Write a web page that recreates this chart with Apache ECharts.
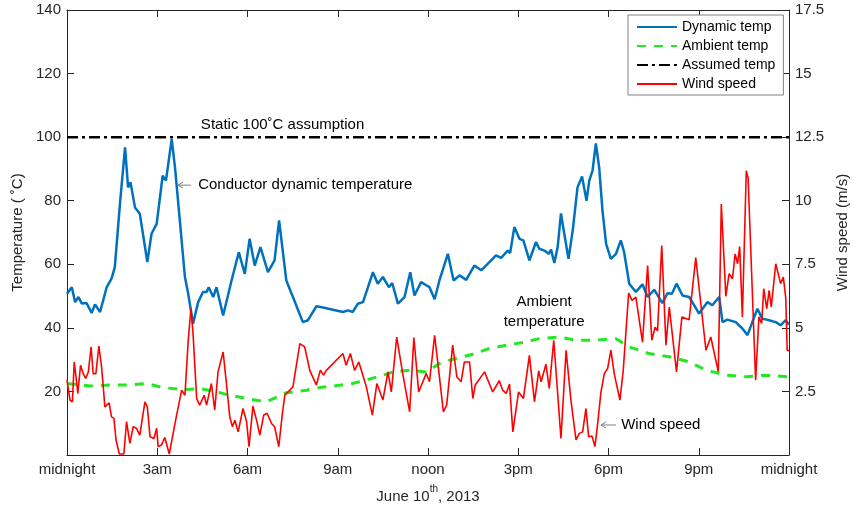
<!DOCTYPE html>
<html><head><meta charset="utf-8">
<script src="https://cdn.jsdelivr.net/npm/echarts@6.0.0/dist/echarts.min.js"></script>
<style>html,body{margin:0;padding:0;background:#fff}#c{width:854px;height:512px}</style>
</head><body><div id="c"></div>
<script>
const xTickLabels = ['midnight','3am','6am','9am','noon','3pm','6pm','9pm','midnight'];

const dynHour = [0,0.16,0.27,0.38,0.49,0.65,0.82,0.93,1.10,1.32,
1.48,1.59,1.76,1.93,2.03,2.11,2.26,2.42,2.67,2.81,
2.98,3.09,3.18,3.29,3.48,3.59,3.75,3.92,4.03,4.19,
4.36,4.52,4.64,4.71,4.86,4.97,5.19,5.47,5.71,5.91,
6.07,6.24,6.43,6.68,6.90,7.05,7.29,7.51,7.84,8.01,
8.29,8.51,9.17,9.34,9.50,9.67,9.84,10.17,10.33,10.50,
10.70,10.81,11.00,11.22,11.41,11.55,11.77,11.94,12.05,12.22,
12.38,12.66,12.85,13.05,13.27,13.54,13.77,13.99,14.26,14.43,
14.65,14.73,14.87,15.04,15.17,15.37,15.59,15.70,15.87,16.01,
16.09,16.20,16.31,16.42,16.53,16.67,16.81,16.97,17.12,17.27,
17.36,17.47,17.58,17.69,17.80,17.92,18.08,18.25,18.41,18.52,
18.69,18.91,19.13,19.30,19.52,19.79,19.96,20.11,20.26,20.46,
20.68,20.85,21.01,21.29,21.45,21.68,21.79,21.95,22.23,22.45,
22.62,22.78,22.95,23.11,23.34,23.56,23.72,23.89,24];
const dynTemp = [50.7,52.8,48.1,49.7,47.7,47.8,44.7,47.4,45,52.8,
55.5,59.1,79,96.8,84.2,85.8,77.9,75.9,60.7,69.6,
72.7,81,87.9,86.3,99.4,90.5,73.8,56,50.7,41.3,
48.1,51.3,51.3,52.8,49.7,52.8,43.9,54.9,63.8,57,
68,59.6,65.4,57.5,61.2,73.8,54.9,49.7,41.8,42.4,
46.8,46.4,45,45.5,45,47.6,48.1,57.5,53.9,56,
52.8,54.1,47.6,49.7,57.5,50.2,54.4,53.4,52.8,49,
54.9,63.3,54.9,56.5,55.1,59.6,58.1,60.2,62.8,62,
64.3,63.5,71.7,68,67.5,61.2,67,64.9,64.3,63.3,
64.6,60.4,65.4,76,69.6,61.7,70.6,84.2,87.6,80,
86.3,89.5,98,90.5,76.9,66.4,61.7,63.3,67.5,63.8,
53.9,51.3,53.7,49.7,52,47.8,50.9,50.7,53.9,50.2,
49.7,47.1,44.5,48.1,47.1,49.7,41.8,42.6,41.8,39.8,
37.7,41.8,46,42.9,42.4,41.8,40.8,42.4,41];

const ambHour = [0,0.76,1.43,1.98,2.65,3.19,3.85,4.41,4.97,5.41,
6.02,6.63,7.29,7.96,8.40,9.39,9.84,10.39,10.83,11.39,
11.94,12.38,12.94,13.49,14.04,14.60,15.26,15.70,16.37,16.92,
17.58,18.25,18.69,19.35,20.02,20.68,21.24,21.90,22.56,23.22,24];
const ambTemp = [22.5,21.7,22,22,22.5,21.2,20.6,20.9,19.9,18.8,
17.7,16.7,19.6,20.4,21.2,22.3,23.3,24.8,26.1,26.7,
26.1,28.8,30.4,31.7,33.5,34.5,35.6,36.6,37.1,36.1,
36.1,36.6,34,31.9,30.9,29.3,26.7,25.1,24.6,25.1,24.6];

const assumedHour = [0, 24];
const assumedTemp = [100, 100];

const windHour = [0,0.10,0.18,0.24,0.30,0.36,0.45,0.54,0.62,0.71,
0.80,0.87,0.96,1.06,1.15,1.26,1.40,1.48,1.56,1.63,
1.74,1.89,1.98,2.09,2.20,2.31,2.42,2.59,2.67,2.76,
2.89,2.98,3.03,3.14,3.25,3.40,3.59,3.81,3.92,4.03,
4.12,4.19,4.31,4.41,4.56,4.64,4.75,4.80,4.91,5.02,
5.19,5.30,5.41,5.50,5.58,5.69,5.85,5.97,6.05,6.18,
6.30,6.41,6.54,6.65,6.80,6.90,7.04,7.16,7.24,7.51,
7.74,7.90,8.07,8.29,8.42,8.53,8.62,9.17,9.28,9.42,
9.56,9.70,9.95,10.15,10.30,10.50,10.67,10.78,10.96,11.16,
11.39,11.53,11.69,11.94,12.05,12.22,12.38,12.51,12.62,12.82,
12.96,13.10,13.21,13.38,13.49,13.57,13.88,14.15,14.37,14.48,
14.60,14.71,14.82,15.01,15.17,15.37,15.54,15.68,15.76,15.92,
16.03,16.18,16.31,16.42,16.59,16.75,16.92,17.03,17.14,17.25,
17.34,17.45,17.55,17.64,17.75,17.86,17.97,18.08,18.19,18.38,
18.49,18.67,18.78,18.91,19.13,19.30,19.44,19.55,19.63,19.77,
19.91,20.02,20.26,20.44,20.68,20.90,21.24,21.40,21.65,21.75,
21.90,22.01,22.12,22.21,22.29,22.36,22.45,22.58,22.64,22.89,
23.00,23.09,23.16,23.26,23.34,23.41,23.56,23.72,23.81,23.89,
23.94,24];
const windSpeed = [2.94,2.16,2.09,3.66,3.07,2.42,3.53,3.2,3.01,3.27,
4.25,3.2,3.2,4.28,3.46,1.89,2.05,1.5,1.44,0.59,
0.04,0.04,1.31,0.46,1.11,1.05,0.78,2.09,1.89,0.72,
0.65,1.05,0.33,0.39,0.69,0.04,1.24,2.55,2.35,4.51,
5.76,4.77,2.22,1.96,2.35,1.96,2.55,2.81,1.77,3.27,
4.05,2.81,1.5,1.11,1.37,0.91,1.83,1.31,0.33,1.92,
1.37,0.78,1.57,1.64,1.24,1.11,0.33,1.64,2.35,2.68,
4.38,4.25,3.33,2.75,3.33,3.14,3.33,3.99,3.53,3.99,
3.33,3.66,2.68,1.57,2.81,2.16,3.27,2.48,4.64,3.2,
1.7,4.62,2.48,3.2,2.88,4.71,3.07,1.7,1.96,4.32,
3.07,2.88,3.66,3.66,2.22,2.75,3.27,2.48,2.92,2.55,
2.42,2.79,0.91,2.48,2.22,3.92,2.09,3.31,2.88,3.57,
2.62,4.51,2.42,0.65,4.12,2.16,0.59,0.85,0.91,1.83,
0.72,0.75,0.33,1.24,2.48,3.2,3.4,4.12,3.2,2.16,
3.33,6.37,6.08,6.21,4.44,7.45,4.51,5.03,4.88,8.24,
4.32,5.82,3.27,5.43,5.32,7.76,4.12,4.64,3.27,9.87,
6.24,7.13,6.93,7.91,7.52,8.2,5.43,11.18,10.9,2.94,
5.43,5.17,6.54,5.76,6.47,5.82,7.52,6.74,7.0,6.21,
4.12,4.1];

const FONT = '"Liberation Sans", Arial, Helvetica, sans-serif';
const AX = '#262626';
function pairs(xs, ys) { return xs.map((x, i) => [x, ys[i]]); }

const chart = echarts.init(document.getElementById('c'), null, {renderer: 'canvas'});

const axisCommon = {
  axisLine: {show: true, onZero: false, lineStyle: {color: AX, width: 1}},
  axisTick: {show: true, inside: true, length: 7, lineStyle: {color: AX, width: 1}},
  splitLine: {show: false}
};

chart.setOption({
  animation: false,
  backgroundColor: '#fff',
  textStyle: {fontFamily: FONT},
  grid: {left: 67, right: 65, top: 10, bottom: 57, containLabel: false, outerBoundsMode: 'none'},
  legend: {
    orient: 'vertical', left: 628, top: 15,
    itemWidth: 40, itemHeight: 12, itemGap: 5,
    padding: [5, 8, 4, 8],
    backgroundColor: '#fff', borderColor: '#808080', borderWidth: 1, borderRadius: 0,
    itemStyle: {opacity: 0, borderWidth: 0},
    textStyle: {fontSize: 14, color: '#000', fontFamily: FONT},
    data: ['Dynamic temp', 'Ambient temp', 'Assumed temp', 'Wind speed']
  },
  xAxis: [
    Object.assign({}, axisCommon, {
      type: 'value', min: 0, max: 24, interval: 3, position: 'bottom', gridIndex: 0,
      axisLabel: {formatter: v => xTickLabels[Math.round(v / 3)], color: AX, fontSize: 15,
        margin: 7, fontFamily: FONT, showMinLabel: true, showMaxLabel: true},
      name: '{a|June 10}{s|th}{a|, 2013}', nameLocation: 'middle', nameGap: 29,
      nameTextStyle: {rich: {
        a: {fontSize: 15, color: AX, fontFamily: FONT, lineHeight: 20, verticalAlign: 'bottom'},
        s: {fontSize: 10, color: AX, fontFamily: FONT, lineHeight: 20, verticalAlign: 'top'}
      }}
    }),
    Object.assign({}, axisCommon, {
      type: 'value', min: 0, max: 24, interval: 3, position: 'top', gridIndex: 0,
      axisLabel: {show: false}
    })
  ],
  yAxis: [
    Object.assign({}, axisCommon, {
      type: 'value', min: 0, max: 140, interval: 20, position: 'left',
      axisLabel: {formatter: v => (v === 0 ? '' : String(v)), color: AX, fontSize: 15, margin: 6, fontFamily: FONT},
      name: 'Temperature ( ˚C)', nameLocation: 'middle', nameRotate: 90, nameGap: 30,
      nameTextStyle: {fontSize: 15, color: AX, fontFamily: FONT}
    }),
    Object.assign({}, axisCommon, {
      type: 'value', min: 0, max: 17.5, interval: 2.5, position: 'right',
      axisLabel: {formatter: v => (v === 0 ? '' : String(v)), color: AX, fontSize: 15, margin: 6, fontFamily: FONT},
      name: 'Wind speed (m/s)', nameLocation: 'middle', nameRotate: 90, nameGap: 46,
      nameTextStyle: {fontSize: 15, color: AX, fontFamily: FONT}
    })
  ],
  series: [
    {name: 'Dynamic temp', type: 'line', xAxisIndex: 0, yAxisIndex: 0, data: pairs(dynHour, dynTemp),
      symbol: 'none', showSymbol: false, color: '#0072BD',
      lineStyle: {color: '#0072BD', width: 2.5}, z: 2},
    {name: 'Ambient temp', type: 'line', xAxisIndex: 0, yAxisIndex: 0, data: pairs(ambHour, ambTemp),
      symbol: 'none', showSymbol: false, color: '#22E822',
      lineStyle: {color: '#22E822', width: 3, type: [9, 8]}, z: 3},
    {name: 'Assumed temp', type: 'line', xAxisIndex: 0, yAxisIndex: 0, data: pairs(assumedHour, assumedTemp),
      symbol: 'none', showSymbol: false, color: '#000',
      lineStyle: {color: '#000', width: 2.5, type: [11, 4, 3, 4]}, z: 4},
    {name: 'Wind speed', type: 'line', xAxisIndex: 0, yAxisIndex: 1, data: pairs(windHour, windSpeed),
      symbol: 'none', showSymbol: false, color: '#FF0000',
      lineStyle: {color: '#FF0000', width: 1.6}, z: 5}
  ]
});

// annotations anchored in data coordinates (hours, °C)
const P = (h, t) => chart.convertToPixel({xAxisIndex: 0, yAxisIndex: 0}, [h, t]);
const annFont = '15px ' + FONT;
function arrow(tipH, tailH, t) {
  const a = P(tipH, t), b = P(tailH, t);
  return [
    {type: 'line', shape: {x1: a[0], y1: a[1], x2: b[0], y2: b[1]}, style: {stroke: '#808080', lineWidth: 1}, z: 50},
    {type: 'polyline', shape: {points: [[a[0] + 5, a[1] - 3], [a[0], a[1]], [a[0] + 5, a[1] + 3]]},
      style: {stroke: '#808080', lineWidth: 1, fill: null}, z: 50}
  ];
}
const sPos = P(4.45, 103.8), cPos = P(4.36, 84.9), aPos = P(15.86, 45.0), wPos = P(18.42, 9.44);
chart.setOption({
  graphic: [
    {type: 'text', x: sPos[0], y: sPos[1], z: 50,
      style: {text: 'Static 100˚C assumption', font: annFont, fill: '#000', align: 'left', verticalAlign: 'middle'}},
    {type: 'text', x: cPos[0], y: cPos[1], z: 50,
      style: {text: 'Conductor dynamic temperature', font: annFont, fill: '#000', align: 'left', verticalAlign: 'middle'}},
    {type: 'text', x: aPos[0], y: aPos[1], z: 50,
      style: {text: 'Ambient\ntemperature', font: annFont, fill: '#000', align: 'center', verticalAlign: 'middle', lineHeight: 20}},
    {type: 'text', x: wPos[0], y: wPos[1], z: 50,
      style: {text: 'Wind speed', font: annFont, fill: '#000', align: 'left', verticalAlign: 'middle'}}
  ].concat(arrow(3.69, 4.12, 84.9)).concat(arrow(17.75, 18.25, 9.44))
});
</script></body></html>
